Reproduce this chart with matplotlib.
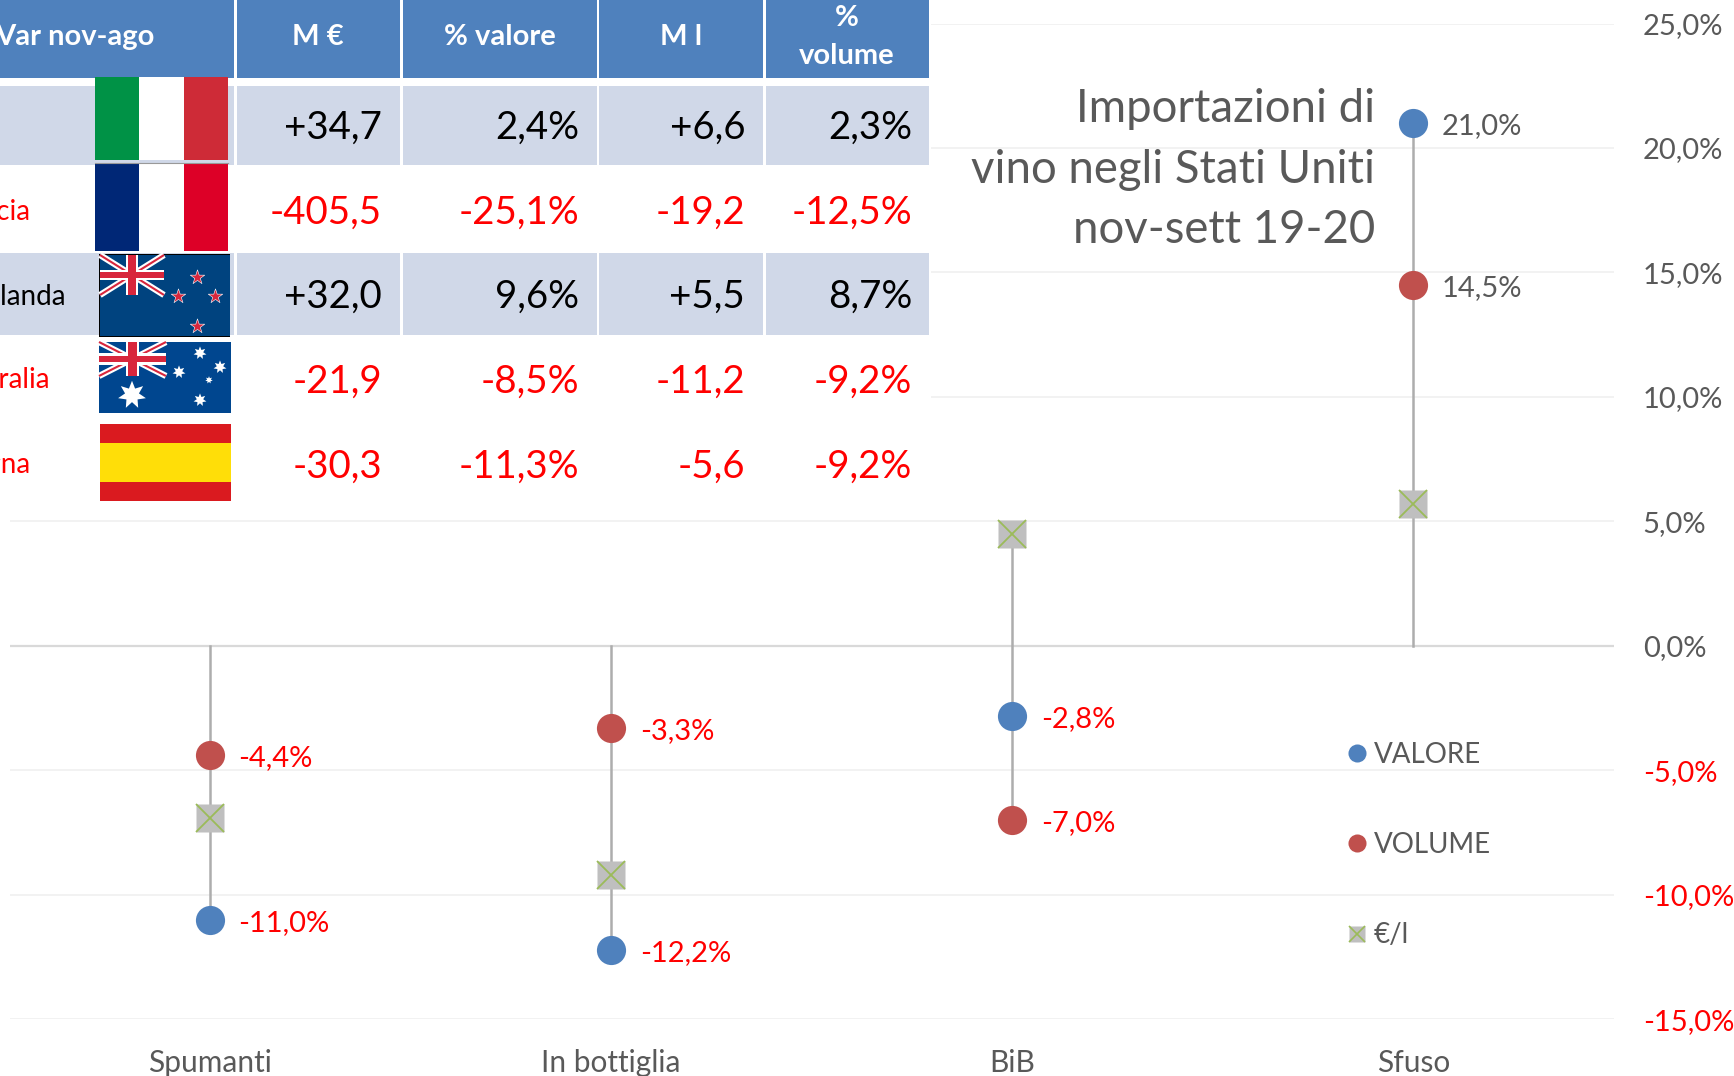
import matplotlib
matplotlib.use('Agg')
import matplotlib.pyplot as plt
from matplotlib.lines import Line2D
from matplotlib.legend_handler import HandlerTuple
from matplotlib.patches import Rectangle

plt.rcParams['font.family'] = ['Lato', 'DejaVu Sans']

categories = ['Spumanti', 'In bottiglia', 'BiB', 'Sfuso']
valore = [-11.0, -12.2, -2.8, 21.0]
volume = [-4.4, -3.3, -7.0, 14.5]
euro_litro = [-6.9, -9.2, 4.5, 5.7]
y_ticks = [-15, -10, -5, 0, 5, 10, 15, 20, 25]

table_header = ['M €', '% valore', 'M l', '%\nvolume']
paesi = ['', 'Francia', 'N. Zelanda', 'Australia', 'Spagna']
milioni_euro = ['+34,7', '-405,5', '+32,0', '-21,9', '-30,3']
perc_valore = ['2,4%', '-25,1%', '9,6%', '-8,5%', '-11,3%']
milioni_litri = ['+6,6', '-19,2', '+5,5', '-11,2', '-5,6']
perc_volume = ['2,3%', '-12,5%', '8,7%', '-9,2%', '-9,2%']

BLUE = '#4F81BD'
RED = '#C0504D'
GRAY = '#595959'
W, H = 1734, 1076


def pct(v):
    return ('%.1f%%' % v).replace('.', ',')


fig = plt.figure(figsize=(W / 100, H / 100), dpi=100)
ax = fig.add_axes([9.5 / W, 1 - 1019.3 / H, 1604.5 / W, 995.8 / H])
ax.set_xlim(-0.5, 3.5)
ax.set_ylim(-15, 25)
for s in ax.spines.values():
    s.set_visible(False)

for t in y_ticks:
    ax.axhline(t, color='#D9D9D9' if t == 0 else '#F2F2F2',
               lw=1.6 if t == 0 else 1.4, zorder=1)

x = list(range(len(categories)))
for i in x:
    vals = [0, valore[i], volume[i], euro_litro[i]]
    ax.plot([i, i], [min(vals), max(vals)], color='#ADADAD', lw=1.8, zorder=2)

ax.plot(x, valore, 'o', color=BLUE, ms=21, mec='none', zorder=3)
ax.plot(x, volume, 'o', color=RED, ms=21, mec='none', zorder=3)
ax.plot(x, euro_litro, 's', color='#BFBFBF', ms=20, mec='none', zorder=3)
ax.plot(x, euro_litro, 'x', color='#9BBB59', ms=20, mew=1.3, zorder=4)

for serie in (valore, volume):
    for i, v in zip(x, serie):
        ax.annotate(pct(v), (i, v), xytext=(20.5, -2.2), textcoords='offset points',
                    va='center', ha='left', fontsize=21,
                    color='red' if v < 0 else GRAY, zorder=5)

ax.set_xticks(x)
ax.set_xticklabels(categories, fontsize=21.5, color=GRAY)
ax.set_yticks(y_ticks)
ax.set_yticklabels([pct(t) for t in y_ticks], fontsize=21)
ax.yaxis.tick_right()
ax.tick_params(axis='both', length=0)
ax.tick_params(axis='x', pad=21.5)
ax.tick_params(axis='y', pad=20.7)
for lab, t in zip(ax.get_yticklabels(), y_ticks):
    lab.set_color('red' if t < 0 else GRAY)
    lab.set_verticalalignment('center_baseline')

handles = [Line2D([], [], ls='', marker='o', color=BLUE, ms=13, mec='none'),
           Line2D([], [], ls='', marker='o', color=RED, ms=13, mec='none'),
           (Line2D([], [], ls='', marker='s', color='#BFBFBF', ms=12, mec='none'),
            Line2D([], [], ls='', marker='x', color='#9BBB59', ms=12, mew=1.2))]
leg = ax.legend(handles, ['VALORE', 'VOLUME', '€/l'], frameon=False, fontsize=20,
                handler_map={tuple: HandlerTuple(ndivide=1, pad=0)},
                loc='upper left', bbox_to_anchor=(1329.5 / W, 1 - 728 / H),
                bbox_transform=fig.transFigure, labelspacing=2.31,
                handlelength=1, handletextpad=0.1, borderpad=0, labelcolor=GRAY)

# overlay in pixel coordinates for the pasted table, title and flags
ov = fig.add_axes([0, 0, 1, 1], zorder=5)
ov.set_xlim(0, W)
ov.set_ylim(H, 0)
ov.axis('off')
ov.patch.set_alpha(0)


def rect(x0, y0, x1, y1, color, z=2, **kw):
    ov.add_patch(Rectangle((x0, y0), x1 - x0, y1 - y0, fc=color, ec='none', zorder=z, **kw))


rect(0, 0, 931, 505, 'white', z=1)

col_edges = [(0, 234), (236.5, 400), (403, 597), (599, 763), (766, 929)]
for c0, c1 in col_edges:
    rect(c0, 0, c1, 78, BLUE)
    rect(c0, 86, c1, 165, '#D0D8E8')
    rect(c0, 253, c1, 335, '#D0D8E8')

ov.text(155, 45, 'Var nov-ago', ha='right', va='baseline', fontsize=21,
        fontweight='bold', color='white', zorder=4)
centers = [318, 500, 681, 847]
for cx, lab in zip(centers[:3], table_header[:3]):
    ov.text(cx, 45, lab, ha='center', va='baseline', fontsize=21,
            fontweight='bold', color='white', zorder=4)
ov.text(847, 26, '%', ha='center', va='baseline', fontsize=21, fontweight='bold',
        color='white', zorder=4)
ov.text(847, 64, 'volume', ha='center', va='baseline', fontsize=21, fontweight='bold',
        color='white', zorder=4)

base_val = [139, 224, 308, 393, 478]
base_lab = [139, 220, 305, 388, 473]
end_lab = [0, 30, 66, 50, 30]
right_edges = [382, 579, 745, 912]
columns = [milioni_euro, perc_valore, milioni_litri, perc_volume]
for r in range(5):
    col = 'red' if milioni_euro[r].startswith('-') else 'black'
    if paesi[r]:
        ov.text(end_lab[r], base_lab[r], paesi[r], ha='right', va='baseline',
                fontsize=20, color=col, zorder=4)
    for re_, c in zip(right_edges, columns):
        ov.text(re_, base_val[r], c[r], ha='right', va='baseline', fontsize=27.7,
                color=col, zorder=4)

title_lines = ['Importazioni di', 'vino negli Stati Uniti', 'nov-sett 19-20']
for y, line in zip([122, 183, 243], title_lines):
    ov.text(1375, y, line, ha='right', va='baseline', fontsize=32.8, color=GRAY, zorder=4)


# flags
def tricolore(x0, y0, x1, y1, c1, c2, c3):
    w = (x1 - x0) / 3
    rect(x0, y0, x0 + w, y1, c1, z=3)
    rect(x0 + w, y0, x0 + 2 * w, y1, c2, z=3)
    rect(x0 + 2 * w, y0, x1, y1, c3, z=3)


def union_jack(x0, y0, x1, y1):
    wd = 0.06 * (x1 - x0)
    for a, b in (((x0, y0), (x1, y1)), ((x0, y1), (x1, y0))):
        ov.plot([a[0], b[0]], [a[1], b[1]], color='white', lw=4.5, zorder=3.2,
                solid_capstyle='butt')
        ov.plot([a[0], b[0]], [a[1], b[1]], color='#D8263C', lw=1.5, zorder=3.3,
                solid_capstyle='butt')
    xm, ym = (x0 + x1) / 2, (y0 + y1) / 2
    rect(xm - wd * 1.6, y0, xm + wd * 1.6, y1, 'white', z=3.4)
    rect(x0, ym - wd * 1.4, x1, ym + wd * 1.4, 'white', z=3.4)
    rect(xm - wd, y0, xm + wd, y1, '#D8263C', z=3.5)
    rect(x0, ym - wd * 0.8, x1, ym + wd * 0.8, '#D8263C', z=3.5)


tricolore(95, 77, 228, 160, '#009246', 'white', '#CE2B37')
tricolore(95, 163, 228, 251, '#002776', 'white', '#DD0027')
ov.plot([95, 228], [163, 163], color='#999999', lw=0.8, zorder=3.1)

rect(99, 254, 230, 337, 'black', z=3)
rect(100, 255, 229.5, 336, '#00437F', z=3.05)
union_jack(100, 255, 164, 295)
ov.scatter([197, 178, 215, 197], [277, 296, 296, 326], marker='*', s=120, c='#D8263C',
           edgecolors='white', linewidths=0.4, zorder=3.6)

rect(99, 342, 231, 413, '#00468F', z=3)
union_jack(99, 342, 166, 376)
ov.scatter([132, 200, 179, 220, 209, 200], [395, 353, 372, 367, 380, 400],
           marker=(7, 1, 0), s=[420, 90, 90, 90, 30, 90], c='white', edgecolors='none', zorder=3.6)

rect(100, 424, 231, 501, '#DA1A1F', z=3)
rect(100, 443, 231, 482, '#FFDE08', z=3.1)

fig.savefig('out.png', dpi=100)
